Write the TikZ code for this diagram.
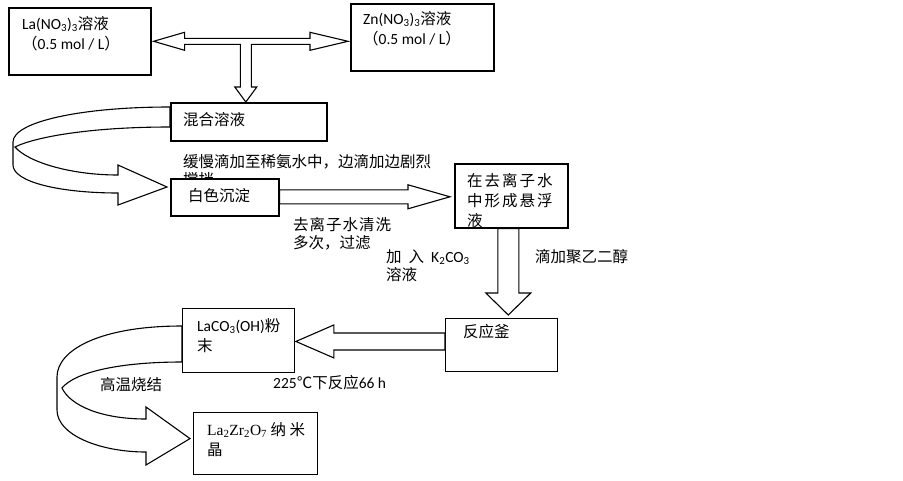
\documentclass[tikz,border=0pt]{standalone}
\usepackage{fontspec}
\setmainfont{Noto Sans CJK SC}
\newfontfamily\latfont{Carlito}
\newfontfamily\tmsfont{Liberation Serif}
\usetikzlibrary{calc,backgrounds}
\tikzset{
  box/.style={draw,line width=1.6pt,fill=white,anchor=north west,inner sep=0pt},
  tbox/.style={box,line width=0.9pt},
  txt/.style={align=left,inner sep=0pt,anchor=north west,font=\fontsize{15.5}{20}\selectfont},
  lbl/.style={txt,font=\fontsize{15.5}{18}\selectfont},
  blk/.style={draw,fill=white,line width=1.1pt,line join=miter}
}
% block arrows: tail, tip, half shaft, half head, head length
\newcommand\rblock[5]{\draw[blk] let \p1=#1,\p2=#2 in
  (\x1,\y2+#3) -- (\x2-#5,\y2+#3) -- (\x2-#5,\y2+#4) -- (\x2,\y2)
  -- (\x2-#5,\y2-#4) -- (\x2-#5,\y2-#3) -- (\x1,\y2-#3) -- cycle;}
\newcommand\lblock[5]{\draw[blk] let \p1=#1,\p2=#2 in
  (\x1,\y2+#3) -- (\x2+#5,\y2+#3) -- (\x2+#5,\y2+#4) -- (\x2,\y2)
  -- (\x2+#5,\y2-#4) -- (\x2+#5,\y2-#3) -- (\x1,\y2-#3) -- cycle;}
\newcommand\dblock[5]{\draw[blk] let \p1=#1,\p2=#2 in
  (\x1+#3,\y1) -- (\x1+#3,\y2+#5) -- (\x1+#4,\y2+#5) -- (\x1,\y2)
  -- (\x1-#4,\y2+#5) -- (\x1-#3,\y2+#5) -- (\x1-#3,\y1) -- cycle;}

\begin{document}
\begin{tikzpicture}[x=1pt,y=-1pt]
  \useasboundingbox (0,0) rectangle (903,480);
  \node[lbl] (slow) at (183,154) {缓慢滴加至稀氨水中，边滴加边剧烈\\搅拌};
  % boxes
  \node[box,minimum width=142pt,minimum height=67pt] (la) at (8,7) {};
  \node[box,minimum width=143pt,minimum height=67pt] (zn) at (350,3) {};
  \node[box,minimum width=156pt,minimum height=38pt] (mix) at (170,102) {};
  \node[box,minimum width=108pt,minimum height=37pt] (wb) at (170,178) {};
  \node[box,minimum width=113pt,minimum height=64pt] (susp) at (454,163) {};
  \node[tbox,minimum width=112pt,minimum height=53pt] (kettle) at (445,318) {};
  \node[tbox,minimum width=112pt,minimum height=64pt] (laco) at (182,308) {};
  \node[tbox,line width=1.2pt,minimum width=124pt,minimum height=62pt] (lzo) at (193,412) {};
  % straight arrows
  \draw[blk] let \p1=(la.east),\p2=(zn.west),\p3=(mix.north) in
    (\x1+2pt,\y1) -- (\x1+33pt,\y1+9pt) -- (\x1+33pt,\y1+3pt) -- (\x2-40pt,\y1+3pt)
    -- (\x2-40pt,\y1+9pt) -- (\x2-2pt,\y1) -- (\x2-40pt,\y1-9pt) -- (\x2-40pt,\y1-3pt)
    -- (\x3+2.5pt,\y1-3pt) -- (\x3+2.5pt,\y3+15pt) -- (\x3+8pt,\y3+15pt) -- (\x3-3pt,\y3)
    -- (\x3-14pt,\y3+15pt) -- (\x3-8.5pt,\y3+15pt) -- (\x3-8.5pt,\y1-3pt)
    -- (\x1+33pt,\y1-3pt) -- (\x1+33pt,\y1-9pt) -- cycle;
  \rblock{(wb.east)}{($(susp.west)+(-4,1)$)}{7pt}{12pt}{42pt}
  \dblock{($(susp.south)+(-3,0)$)}{($(kettle.north)+(0,-3)$)}{10.5pt}{22.5pt}{22pt}
  \lblock{(kettle.west)}{($(laco.east)+(1,1)$)}{8.5pt}{16.5pt}{38pt}
  % texts
  \node[txt] (la-t) at ($(la.north west)+(14,9)$) {{\latfont La(NO\textsubscript{3})\textsubscript{3}}溶液\\（{\latfont 0.5 mol / L}）};
  \node[txt] (zn-t) at ($(zn.north west)+(13,8)$) {{\latfont Zn(NO\textsubscript{3})\textsubscript{3}}溶液\\（{\latfont 0.5 mol / L}）};
  \node[txt] (mix-t) at ($(mix.north west)+(13,10)$) {混合溶液};
  \node[txt] (wb-t) at ($(wb.north west)+(18,10)$) {白色沉淀};
  \node[txt] (susp-t) at ($(susp.north west)+(13,10)$) {在\kern2pt去\kern2pt离\kern2pt子\kern2pt水\\中\kern2pt形\kern2pt成\kern2pt悬\kern2pt浮\\液};
  \node[txt] (kettle-t) at ($(kettle.north west)+(18,6)$) {反应釜};
  \node[txt] (laco-t) at ($(laco.north west)+(15,10)$) {{\latfont LaCO\textsubscript{3}(OH)}粉\\末};
  \node[txt] (lzo-t) at ($(lzo.north west)+(14,10)$) {{\tmsfont La\textsubscript{2}Zr\textsubscript{2}O\textsubscript{7}} 纳 米\\晶};
  \node[lbl] (wash) at (293,217) {去\kern1pt离\kern1pt子\kern1pt水\kern1pt清\kern1pt洗\\多次，过滤};
  \node[lbl] (k2co3) at (386,249) {加\hspace{7pt}入\hspace{7pt}{\latfont K\textsubscript{2}CO\textsubscript{3}}\\溶液};
  \node[lbl] (peg) at (535,249) {滴加聚乙二醇};
  \node[lbl] (temp) at (273,375) {{\latfont 225}℃下反应{\latfont 66 h}};
  \node[lbl] (sinter) at (100,377) {高温烧结};
  % curved arrows
  \begin{scope}[on background layer]
    \draw[blk] ($(mix.north west)+(0,5)$) .. controls (80,107) and (13,122) .. (13,142)
      -- (13,165) .. controls (13,182) and (60,193) .. (118,193) -- (118,205)
      -- ($(wb.north west)+(-3,9)$) -- (118,165) -- (118,175)
      .. controls (70,175) and (28,162) .. (15,147)
      .. controls (35,137) and (90,127) .. ($(mix.north west)+(0,25)$) -- cycle;
    \draw[blk] ($(laco.north west)+(0,18)$) .. controls (100,326) and (57,350) .. (57,377)
      -- (57,410) .. controls (57,435) and (100,452) .. (146,452) -- (146,465)
      -- ($(lzo.west)+(-3,-5)$) -- (146,407) -- (146,419)
      .. controls (100,419) and (70,405) .. (62,388)
      .. controls (75,372) and (120,362) .. ($(laco.north west)+(0,54)$) -- cycle;
  \end{scope}
\end{tikzpicture}
\end{document}
